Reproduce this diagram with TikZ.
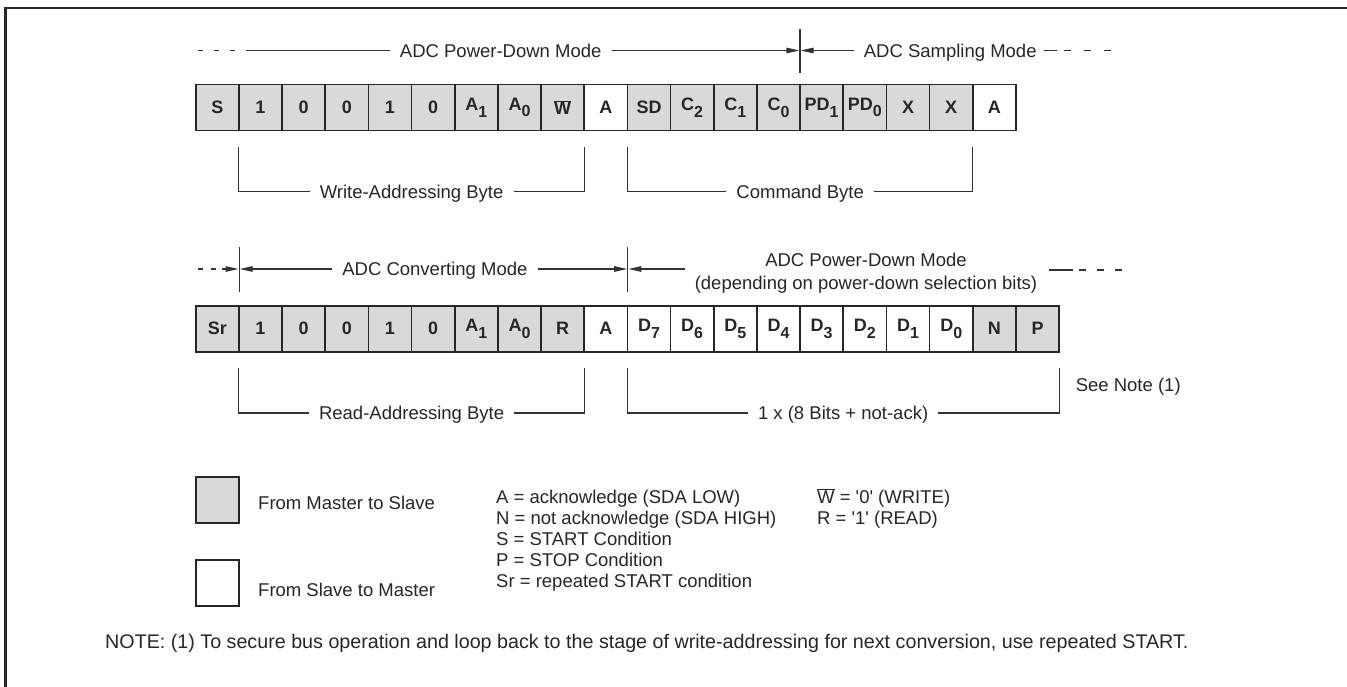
\documentclass[tikz,border=0pt]{standalone}
\usepackage{fontspec}
\setmainfont{Liberation Sans}
\usetikzlibrary{arrows.meta,positioning}
\newcommand{\txtfont}{\fontsize{18.5}{22.6}\selectfont}
\newcommand{\cellfont}{\fontsize{18}{20}\selectfont\bfseries}
\newcommand{\bitsub}[1]{\raisebox{-0.35em}{\fontsize{16}{16}\selectfont #1}}
\newcommand{\wbar}{$\overline{\mbox{W}}$}
\tikzset{
	bitcell/.style={rectangle, draw=black!85, line width=1.6pt, minimum width=43.17pt,
		minimum height=46pt, inner sep=0pt, outer sep=0pt, font=\cellfont, text=black!85},
	mst/.style={bitcell, fill=black!15},
	slv/.style={bitcell, fill=white},
	modetext/.style={font=\txtfont, text=black!85, inner sep=10pt, text height=13.2pt,
		text depth=0pt},
	modeline/.style={line width=1.1pt, draw=black!80},
	modearr/.style={modeline, -{Triangle[length=13pt, width=5.5pt]}, shorten >=0.6pt},
	keytext/.style={font=\txtfont, text=black!85, inner sep=0pt, text height=13.2pt,
		text depth=0pt, anchor=west}
}

\begin{document}
\begin{tikzpicture}[x=1pt, y=-1pt]
	\useasboundingbox (0,0) rectangle (1347,687);
	\draw[line width=2.5pt, black!85] (5.3,687) -- (5.3,8) -- (1347,8);

	% write cycle
	\foreach \lab/\who [count=\i from 0] in {S/mst, 1/mst, 0/mst, 0/mst, 1/mst, 0/mst,
		A\bitsub{1}/mst, A\bitsub{0}/mst, \wbar/mst, A/slv, SD/mst, C\bitsub{2}/mst,
		C\bitsub{1}/mst, C\bitsub{0}/mst, PD\bitsub{1}/mst, PD\bitsub{0}/mst, X/mst, X/mst, A/slv}
		\node[\who] (w\i) at (217.3+43.17*\i, 107.7) {\lab};

	% read cycle
	\foreach \lab/\who [count=\i from 0] in {Sr/mst, 1/mst, 0/mst, 0/mst, 1/mst, 0/mst,
		A\bitsub{1}/mst, A\bitsub{0}/mst, R/mst, A/slv, D\bitsub{7}/slv, D\bitsub{6}/slv,
		D\bitsub{5}/slv, D\bitsub{4}/slv, D\bitsub{3}/slv, D\bitsub{2}/slv, D\bitsub{1}/slv,
		D\bitsub{0}/slv, N/mst, P/mst}
		\node[\who] (r\i) at (217.3+43.17*\i, 328.8) {\lab};

	% modes above the write cycle
	\coordinate (m1a) at (197.7,50.5);
	\coordinate (dv1) at (800,50.5);
	\coordinate (dv1t) at (800,29);
	\coordinate (dv1b) at (800,73);
	\coordinate (m1z) at (1111,50.5);
	\node[modetext] (pdw) at (500.7,50.5) {ADC Power-Down Mode};
	\node[modetext] (smp) at (950.2,50.5) {ADC Sampling Mode};
	\draw[modeline, dash pattern=on 5pt off 11pt on 5pt off 11pt on 5pt off 11pt on 300pt off 1pt]
		(m1a) -- (pdw.west);
	\draw[modearr] (pdw.east) -- (dv1);
	\draw[modearr] (smp.west) -- (dv1);
	\draw[modeline] (dv1t) -- (dv1b);
	\draw[modeline, dash pattern=on 13pt off 7pt on 7pt off 13pt on 7pt off 13pt on 7pt off 100pt]
		([xshift=-3pt]smp.east) -- (m1z);

	% modes above the read cycle
	\coordinate (m2a) at (198,269);
	\coordinate (dv2) at (239.1,269);
	\coordinate (dv3) at (627.8,269);
	\coordinate (m2p) at (685,269);
	\coordinate (m2q) at (1049,270);
	\coordinate (m2z) at (1124,270);
	\node[modetext] (cnv) at (434.9,269) {ADC Converting Mode};
	\node[font=\txtfont, text=black!85, align=center] (pdr) at (866,273)
		{ADC Power-Down Mode\\(depending on power-down selection bits)};
	\draw[modearr, dash pattern=on 5pt off 8pt on 5pt off 6pt on 60pt off 1pt] (m2a) -- (dv2);
	\draw[modeline] (dv2 |- 0,247) -- (dv2 |- 0,292);
	\draw[modeline] (dv3 |- 0,247) -- (dv3 |- 0,292);
	\draw[modearr] (cnv.west) -- (dv2);
	\draw[modearr] (cnv.east) -- (dv3);
	\draw[modearr] (m2p) -- (dv3);
	\draw[modeline, dash pattern=on 24pt off 6pt on 7pt off 11pt on 7pt off 11pt on 7pt off 100pt]
		(m2q) -- (m2z);

	% byte brackets
	\node[modetext] (wab) at (411.6,191.7) {Write-Addressing Byte};
	\node[modetext] (cmd) at (800.2,191.7) {Command Byte};
	\node[modetext] (rab) at (411.6,413) {Read-Addressing Byte};
	\node[modetext] (oct) at (843.1,413) {1 x (8 Bits + not-ack)};
	\draw[modeline] ([yshift=-16pt]w1.south west) |- (wab.west);
	\draw[modeline] (wab.east) -| ([yshift=-16pt]w9.south west);
	\draw[modeline] ([yshift=-16pt]w10.south west) |- (cmd.west);
	\draw[modeline] (cmd.east) -| ([yshift=-16pt]w18.south west);
	\draw[modeline] ([yshift=-16pt]r1.south west) |- (rab.west);
	\draw[modeline] (rab.east) -| ([yshift=-16pt]r9.south west);
	\draw[modeline] ([yshift=-16pt]r10.south west) |- (oct.west);
	\draw[modeline] (oct.east) -| ([yshift=-16pt]r19.south east);
	\node[keytext] (seenote) at (1075.6,385) {See Note (1)};

	% legend
	\node[mst] (keym) at (217.3,500) {};
	\node[slv] (keys) at (217.3,583) {};
	\node[keytext] (keymtxt) at (258,503) {From Master to Slave};
	\node[keytext] (keystxt) at (258,590) {From Slave to Master};
	\foreach \txt [count=\k from 0] in {A = acknowledge (SDA LOW), N = not acknowledge (SDA HIGH),
		S = START Condition, P = STOP Condition, Sr = repeated START condition}
		\node[keytext] (abbr\k) at (496, 497+20.9*\k) {\txt};
	\node[keytext] (wdef) at (817,497) {\wbar{} = \textquotesingle0\textquotesingle{} (WRITE)};
	\node[keytext] (rdef) at (817,517.9) {R = \textquotesingle1\textquotesingle{} (READ)};

	\node[keytext, font=\fontsize{19.7}{22}\selectfont] (note) at (105,642)
		{NOTE: (1) To secure bus operation and loop back to the stage of write-addressing for next conversion, use repeated START.};
\end{tikzpicture}
\end{document}
